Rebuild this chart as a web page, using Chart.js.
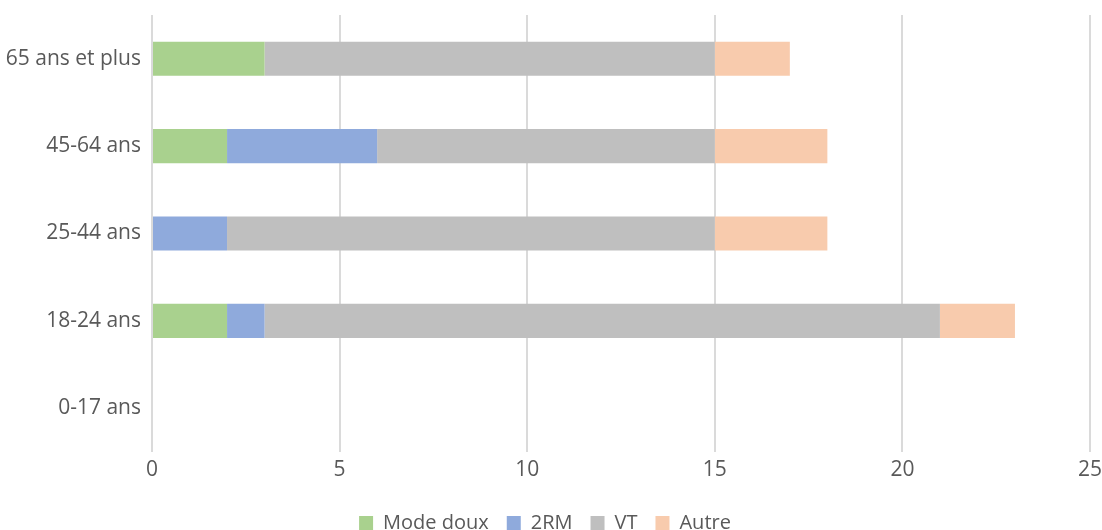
<!DOCTYPE html>
<html>
<head>
<meta charset="utf-8">
<script src="https://cdn.jsdelivr.net/npm/chart.js@4/dist/chart.umd.min.js"></script>
<style>
  html, body { margin: 0; padding: 0; background: #fff; overflow: hidden; }
  #wrap { width: 1102px; height: 543px; }
</style>
</head>
<body>
<div id="wrap"><canvas id="chart"></canvas></div>
<script>
const categories = ['65 ans et plus', '45-64 ans', '25-44 ans', '18-24 ans', '0-17 ans'];
const modeDoux = [3, 2, 0, 2, 0];
const deuxRM = [0, 4, 2, 1, 0];
const vt = [12, 9, 13, 18, 0];
const autre = [2, 3, 3, 2, 0];
const xTicks = [0, 5, 10, 15, 20, 25];

const FONT = "'Open Sans', 'Liberation Sans', sans-serif";

const mkSet = (label, data, color) => ({
  label, data, backgroundColor: color, borderWidth: 0,
  barPercentage: 0.39, categoryPercentage: 1
});

new Chart(document.getElementById('chart'), {
  type: 'bar',
  data: {
    labels: categories,
    datasets: [
      mkSet('Mode doux', modeDoux, '#A9D18E'),
      mkSet('2RM', deuxRM, '#8FAADC'),
      mkSet('VT', vt, '#BFBFBF'),
      mkSet('Autre', autre, '#F8CBAD')
    ]
  },
  options: {
    indexAxis: 'y',
    responsive: true,
    maintainAspectRatio: false,
    animation: false,
    layout: { padding: { top: 15, right: 12, left: 0, bottom: 0 } },
    plugins: {
      tooltip: { enabled: false },
      legend: {
        position: 'bottom',
        labels: {
          color: '#595959',
          font: { family: FONT, size: 20 },
          boxWidth: 14, boxHeight: 14, padding: 18
        }
      }
    },
    scales: {
      x: {
        stacked: true,
        min: xTicks[0], max: xTicks[xTicks.length - 1],
        afterBuildTicks: (s) => { s.ticks = xTicks.map((v) => ({ value: v })); },
        afterFit: (s) => { s.height = 43; s.paddingLeft = 0; s.paddingRight = 0; },
        grid: { color: '#DADADA', lineWidth: 2, drawTicks: false },
        border: { display: false },
        ticks: { color: '#595959', font: { family: FONT, size: 21 }, padding: 5 }
      },
      y: {
        stacked: true,
        afterFit: (s) => { s.width = 152; s.paddingTop = 0; s.paddingBottom = 0; },
        grid: { display: false, drawTicks: false },
        border: { display: false },
        ticks: { color: '#595959', font: { family: FONT, size: 21 }, padding: 11 }
      }
    }
  }
});
</script>
</body>
</html>
